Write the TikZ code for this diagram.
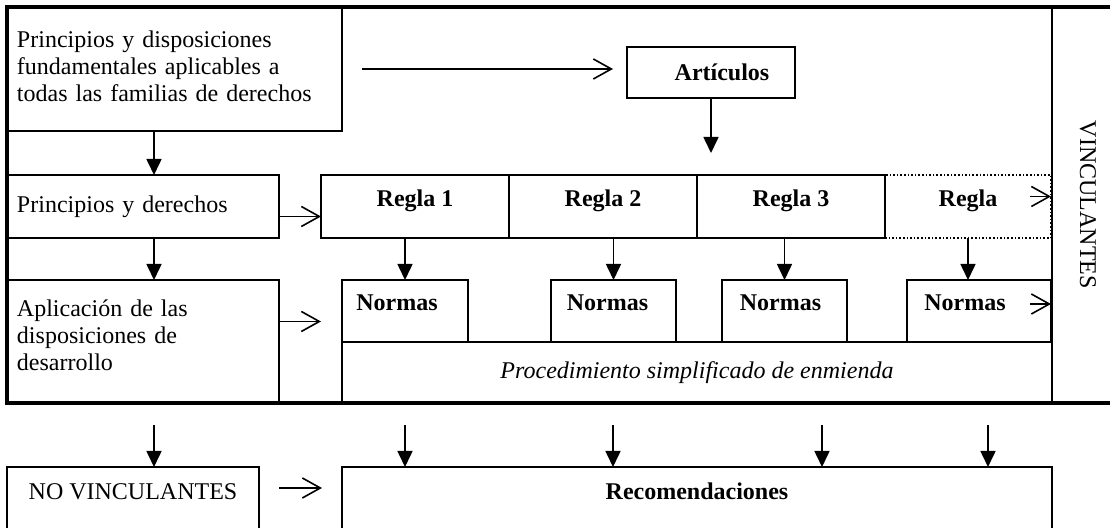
\documentclass[tikz,border=0pt]{standalone}
\usepackage{fontspec}
\setmainfont{Liberation Serif}
\usetikzlibrary{arrows.meta,calc}

\tikzset{
  normtext/.style={font=\fontsize{12pt}{13.5pt}\selectfont},
  boldtext/.style={font=\fontsize{12pt}{13.5pt}\selectfont\bfseries},
  box/.style={draw, rectangle, line width=0.8pt, inner sep=0pt, outer sep=0pt, anchor=north west, normtext},
  txtbox/.style={box, align=left, inner xsep=5pt, text width=#1},
  midtext/.style={text height=8pt, text depth=8pt},
  lowtext/.style={text height=8pt, text depth=15pt},
  fillarrow/.style={line width=0.8pt, -{Triangle[length=8pt,width=7.5pt]}},
  openarrow/.style={line width=0.8pt, -{Straight Barb[length=9pt,width=10pt]}},
  frame/.style={line width=2.2pt}
}

\begin{document}
\begin{tikzpicture}[x=0.5pt,y=-0.5pt]
	\useasboundingbox (0,0) rectangle (1110,528);
	
	%%%%% BINDING PART %%%%%
	\node[txtbox=157.5pt, minimum width=167.5pt, minimum height=62pt, text depth=30pt] (fund) at (7,7)
		{Principios y disposiciones\\fundamentales aplicables a\\todas las familias de derechos};
	\node[txtbox=126pt, minimum width=136pt, minimum height=31.5pt] (pyd) at (7,175) {Principios y derechos};
	\node[txtbox=126pt, minimum width=136pt, minimum height=61.5pt, text depth=33pt] (apl) at (7,280)
		{Aplicación de las\\disposiciones de\\desarrollo};
	
	\node[box, boldtext, minimum width=84pt, minimum height=25.5pt] (art) at (627,47) {\hspace*{11pt}Artículos};
	
	\node[box, boldtext, midtext, minimum width=94pt, minimum height=31.5pt] (reg1) at (321,175) {Regla 1};
	\node[box, boldtext, midtext, minimum width=94pt, minimum height=31.5pt] (reg2) at (509,175) {Regla 2};
	\node[box, boldtext, midtext, densely dotted, minimum width=83pt, minimum height=31.5pt] (reg4) at (885,175) {Regla};
	\node[box, boldtext, midtext, minimum width=94pt, minimum height=31.5pt] (reg3) at (697,175) {Regla 3};
	
	\node[box, boldtext, midtext, minimum width=63pt, minimum height=31pt] (norm1) at (342,280) {Normas\hspace*{8pt}};
	\node[box, boldtext, midtext, minimum width=62.5pt, minimum height=31pt] (norm2) at (551,280) {Normas\hspace*{6pt}};
	\node[box, boldtext, midtext, minimum width=62.5pt, minimum height=31pt] (norm3) at (722,280) {Normas\hspace*{4pt}};
	\node[box, boldtext, midtext, minimum width=72pt, minimum height=31pt] (norm4) at (907,280) {Normas\hspace*{14pt}};
	
	\node[box, minimum width=355pt, minimum height=30.5pt] (proc) at (342,342)
		{\itshape Procedimiento simplificado de enmienda};
	
	\node[normtext, rotate=-90] (vinc) at (1088,205) {VINCULANTES};
	
	% frame round the binding part
	\draw[frame] (1110,7) -- (7,7) -- (7,403) -- (1110,403);
	\draw[line width=0.8pt] (1052,7) -- (1052,403);
	
	%%%%% NON BINDING PART %%%%%
	\node[box, lowtext, minimum width=126pt, minimum height=40pt] (nv) at (7,467) {NO VINCULANTES};
	\node[box, boldtext, lowtext, minimum width=355pt, minimum height=40pt] (rec) at (342,467) {Recomendaciones};
	
	%%%%% ARROWS %%%%%
	\draw[openarrow] ([xshift=10pt]fund.east) -- ([xshift=-7pt]fund.east -| art.west);
	\draw[fillarrow] (art.south) -- ($(art.south |- reg3.north)+(0,-22)$);
	
	\draw[fillarrow] ([xshift=5.5pt]pyd.north |- fund.south) -- ([xshift=5.5pt]pyd.north);
	\draw[fillarrow] ([xshift=5.5pt]apl.north |- pyd.south) -- ([xshift=5.5pt]apl.north);
	\draw[fillarrow] ([xshift=5.5pt,yshift=-11pt]apl.south) -- ([xshift=5.5pt]apl.south |- nv.north);
	
	\draw[openarrow] ([yshift=-5pt]pyd.east) -- ([yshift=-5pt]pyd.east -| reg1.west);
	\draw[openarrow] ([yshift=10pt]apl.east) -- ([xshift=21pt,yshift=10pt]apl.east);
	\draw[openarrow] ([xshift=10pt,yshift=9.5pt]nv.east) -- ([xshift=-10pt,yshift=9.5pt]rec.west);
	
	\draw[fillarrow] (reg1.south -| norm1.north) -- (norm1.north);
	\draw[fillarrow] (reg2.south -| norm2.north) -- (norm2.north);
	\draw[fillarrow] (reg3.south -| norm3.north) -- (norm3.north);
	\draw[fillarrow] (reg4.south) -- (reg4.south |- norm4.north);
	
	\draw[openarrow] ([xshift=-10.5pt,yshift=5pt]reg4.east) -- ([yshift=5pt]reg4.east);
	\draw[openarrow] ([xshift=-10.5pt,yshift=3.5pt]norm4.east) -- ([yshift=3.5pt]norm4.east);
	
	\foreach \x [count=\i] in {405,613,822,988} {
		\coordinate (top\i) at (\x,425);
		\draw[fillarrow] (top\i) -- (top\i |- rec.north);
	}
\end{tikzpicture}
\end{document}
